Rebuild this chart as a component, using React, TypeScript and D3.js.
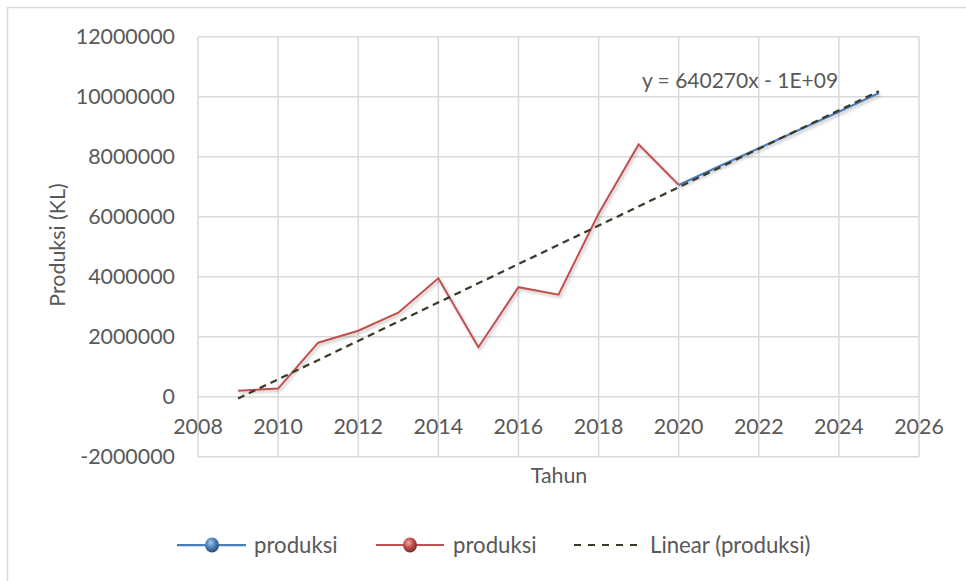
import React from "react";
import * as d3 from "d3";

const years = [2009, 2010, 2011, 2012, 2013, 2014, 2015, 2016, 2017, 2018, 2019, 2020];
const produksiActual = [200000, 270000, 1800000, 2200000, 2800000, 3950000, 1650000, 3650000, 3400000, 6100000, 8410000, 7060000];
const forecastYears = [2020, 2021, 2022, 2023, 2024, 2025];
const produksiForecast = [7060000, 7670000, 8280000, 8890000, 9500000, 10120000];
const trendSlope = 640270;
const trendStartYear = 2009;
const trendEndYear = 2025;
const trendStartValue = -60000;
const xTicks = [2008, 2010, 2012, 2014, 2016, 2018, 2020, 2022, 2024, 2026];
const yTicks = [-2000000, 0, 2000000, 4000000, 6000000, 8000000, 10000000, 12000000];
const equationLabel = "y = 640270x - 1E+09";
const legendLabels = ["produksi", "produksi", "Linear (produksi)"];

const FONT = "Lato, 'Open Sans', sans-serif";
const TXT = "#595959";
const GRID = "#d9d9d9";
const BLUE = "#4a7ebb";
const RED = "#c0504d";
const TREND = "#3b3a28";

export default function App() {
  const x = d3.scaleLinear().domain([2008, 2026]).range([198, 919]);
  const y = d3.scaleLinear().domain([-2000000, 12000000]).range([456.7, 36.7]);

  const line = d3
    .line<[number, number]>()
    .x((d) => x(d[0]))
    .y((d) => y(d[1]));

  const redPts: [number, number][] = years.map((yr, i) => [yr, produksiActual[i]]);
  const bluePts: [number, number][] = forecastYears.map((yr, i) => [yr, produksiForecast[i]]);
  const trendPts: [number, number][] = [
    [trendStartYear, trendStartValue],
    [trendEndYear, trendStartValue + trendSlope * (trendEndYear - trendStartYear)],
  ];

  const legendY = 545;
  const LFS = 22.2;
  const FS = 21.4;

  return (
    <svg
      width={966}
      height={581}
      style={{ position: "absolute", left: 0, top: 0, background: "#fff" }}
      fontFamily={FONT}
    >
      <defs>
        <filter id="shadow" x="-10%" y="-10%" width="120%" height="130%">
          <feDropShadow dx="1.5" dy="2" stdDeviation="1.5" floodColor="#000" floodOpacity="0.25" />
        </filter>
        <radialGradient id="gBlue" cx="40%" cy="35%" r="65%">
          <stop offset="0%" stopColor="#a9c8f0" />
          <stop offset="50%" stopColor="#4f81bd" />
          <stop offset="100%" stopColor="#2c4d75" />
        </radialGradient>
        <radialGradient id="gRed" cx="40%" cy="35%" r="65%">
          <stop offset="0%" stopColor="#f0a8a6" />
          <stop offset="50%" stopColor="#c0504d" />
          <stop offset="100%" stopColor="#7a2c2a" />
        </radialGradient>
      </defs>

      {/* outer chart border */}
      <rect x={7.5} y={7.5} width={1000} height={1000} fill="none" stroke={GRID} strokeWidth={1.5} />

      {/* gridlines */}
      {xTicks.map((t) => (
        <line key={"vx" + t} x1={x(t)} x2={x(t)} y1={y(12000000)} y2={y(-2000000)} stroke={GRID} strokeWidth={1.5} />
      ))}
      {yTicks.map((t) => (
        <line key={"hy" + t} x1={x(2008)} x2={x(2026)} y1={y(t)} y2={y(t)} stroke={GRID} strokeWidth={1.5} />
      ))}

      {/* y tick labels */}
      {yTicks.map((t) => (
        <text key={"yl" + t} x={175} y={y(t)} dy="0.36em" textAnchor="end" fontSize={FS} fill={TXT}>
          {String(t)}
        </text>
      ))}

      {/* x tick labels */}
      {xTicks.map((t) => (
        <text key={"xl" + t} x={x(t)} y={434} textAnchor="middle" fontSize={FS} fill={TXT}>
          {String(t)}
        </text>
      ))}

      {/* axis titles */}
      <text x={559} y={483} textAnchor="middle" fontSize={FS} fill={TXT}>
        Tahun
      </text>
      <text
        transform={`translate(65,245) rotate(-90)`}
        textAnchor="middle"
        fontSize={FS}
        fill={TXT}
      >
        Produksi (KL)
      </text>

      {/* series */}
      <path d={line(redPts) || ""} fill="none" stroke={RED} strokeWidth={2} strokeLinejoin="miter" filter="url(#shadow)" />
      <path d={line(bluePts) || ""} fill="none" stroke={BLUE} strokeWidth={2.25} filter="url(#shadow)" />
      <path d={line(trendPts) || ""} fill="none" stroke={TREND} strokeWidth={2.25} strokeDasharray="7 5" />

      {/* equation */}
      <text x={740} y={88} textAnchor="middle" fontSize={21} fill={TXT}>
        {equationLabel}
      </text>

      {/* legend */}
      <g>
        <line x1={177} x2={246} y1={legendY} y2={legendY} stroke={BLUE} strokeWidth={2.25} />
        <ellipse cx={212} cy={legendY} rx={7} ry={7.5} fill="url(#gBlue)" />
        <text x={254} y={legendY} dy="0.36em" fontSize={LFS} fill={TXT}>
          {legendLabels[0]}
        </text>
        <line x1={376} x2={444} y1={legendY} y2={legendY} stroke={RED} strokeWidth={2} />
        <ellipse cx={410} cy={legendY} rx={7} ry={7.5} fill="url(#gRed)" />
        <text x={453} y={legendY} dy="0.36em" fontSize={LFS} fill={TXT}>
          {legendLabels[1]}
        </text>
        <line x1={574} x2={638} y1={legendY} y2={legendY} stroke={TREND} strokeWidth={2} strokeDasharray="7 7" />
        <text x={650} y={legendY} dy="0.36em" fontSize={LFS} fill={TXT}>
          {legendLabels[2]}
        </text>
      </g>
    </svg>
  );
}
